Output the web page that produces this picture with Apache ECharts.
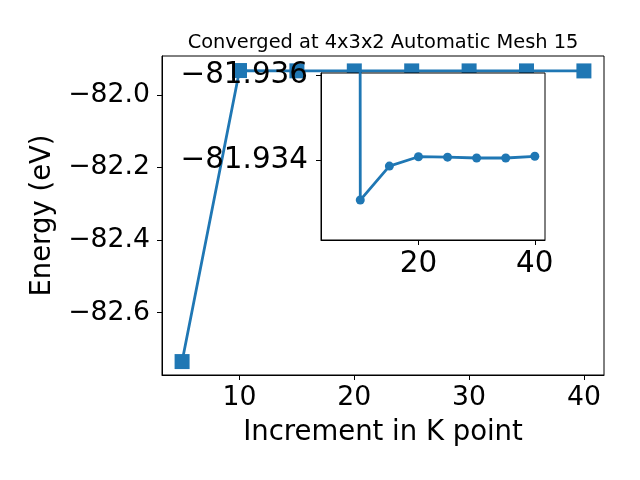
<!DOCTYPE html>
<html>
<head>
<meta charset="utf-8">
<script src="https://cdn.jsdelivr.net/npm/echarts@6/dist/echarts.min.js"></script>
<style>html,body{margin:0;padding:0;background:#fff;}#c{width:640px;height:480px;}</style>
</head>
<body>
<div id="c"></div>
<script>
var kPoints = [5, 10, 15, 20, 25, 30, 35, 40];
var energies = [-82.735, -81.93306, -81.93386, -81.93408, -81.93407, -81.93405, -81.93405, -81.93409];
var mainXTicks = [10, 20, 30, 40];
var mainYTicks = [-82.6, -82.4, -82.2, -82.0];
var insetXTicks = [20, 40];
var insetYTicks = [-81.936, -81.934];
var titleText = 'Converged at 4x3x2 Automatic Mesh 15';
var xName = 'Increment in K point';
var yName = 'Energy (eV)';

var FONT = 'DejaVu Sans';
var BLUE = '#1f77b4';
function fmt(d) { return function (v) { return Number(v).toFixed(d).replace('-', '\u2212'); }; }
var pairs = kPoints.map(function (k, i) { return [k, energies[i]]; });

var chart = echarts.init(document.getElementById('c'), null, {renderer: 'canvas'});
chart.setOption({
  animation: false,
  backgroundColor: '#fff',
  title: {
    text: titleText, left: 378, top: 28, textAlign: 'center',
    textStyle: {fontFamily: FONT, fontSize: 19.4, fontWeight: 'normal', color: '#000'}
  },
  grid: [
    {left: 162, top: 56, right: 36, bottom: 105, show: true, borderColor: '#000', borderWidth: 1, backgroundColor: 'transparent'},
    {left: 321, top: 73, width: 224, height: 167, show: true, borderColor: '#000', borderWidth: 1, backgroundColor: '#fff', z: 5}
  ],
  xAxis: [
    {type: 'value', gridIndex: 0, min: 3.25, max: 41.75,
     name: xName, nameLocation: 'middle', nameGap: 44,
     nameTextStyle: {fontFamily: FONT, fontSize: 27.5, color: '#000'},
     axisLine: {show: true, onZero: false, lineStyle: {color: '#000', width: 1}},
     axisTick: {show: true, length: 5, customValues: mainXTicks, lineStyle: {color: '#000'}},
     axisLabel: {customValues: mainXTicks, margin: 10, fontFamily: FONT, fontSize: 26.7, color: '#000', formatter: fmt(0)},
     splitLine: {show: false}},
    {type: 'value', gridIndex: 1, min: 3.25, max: 41.75, z: 6,
     axisLine: {show: true, onZero: false, lineStyle: {color: '#000', width: 1}},
     axisTick: {show: true, length: 5, customValues: insetXTicks, lineStyle: {color: '#000'}},
     axisLabel: {customValues: insetXTicks, margin: 10, fontFamily: FONT, fontSize: 29.4, color: '#000', formatter: fmt(0)},
     splitLine: {show: false}}
  ],
  yAxis: [
    {type: 'value', gridIndex: 0, min: -82.772, max: -81.893,
     name: yName, nameLocation: 'middle', nameGap: 100,
     nameTextStyle: {fontFamily: FONT, fontSize: 27.5, color: '#000'},
     axisLine: {show: true, onZero: false, lineStyle: {color: '#000', width: 1}},
     axisTick: {show: true, length: 5, customValues: mainYTicks, lineStyle: {color: '#000'}},
     axisLabel: {customValues: mainYTicks, margin: 12, fontFamily: FONT, fontSize: 26.7, color: '#000', formatter: fmt(1)},
     splitLine: {show: false}},
    {type: 'value', gridIndex: 1, inverse: true, min: -81.93605, max: -81.93212, z: 6,
     axisLine: {show: true, onZero: false, lineStyle: {color: '#000', width: 1}},
     axisTick: {show: true, length: 5, customValues: insetYTicks, lineStyle: {color: '#000'}},
     axisLabel: {customValues: insetYTicks, margin: 13, fontFamily: FONT, fontSize: 29.4, color: '#000', formatter: fmt(3)},
     splitLine: {show: false}}
  ],
  series: [
    {type: 'line', xAxisIndex: 0, yAxisIndex: 0, data: pairs, symbol: 'rect', symbolSize: 15,
     lineStyle: {color: BLUE, width: 2.8}, itemStyle: {color: BLUE}, z: 2},
    {type: 'line', xAxisIndex: 1, yAxisIndex: 1, data: pairs, symbol: 'circle', symbolSize: 9, clip: true,
     lineStyle: {color: BLUE, width: 2.8}, itemStyle: {color: BLUE}, z: 7}
  ]
});
</script>
</body>
</html>
